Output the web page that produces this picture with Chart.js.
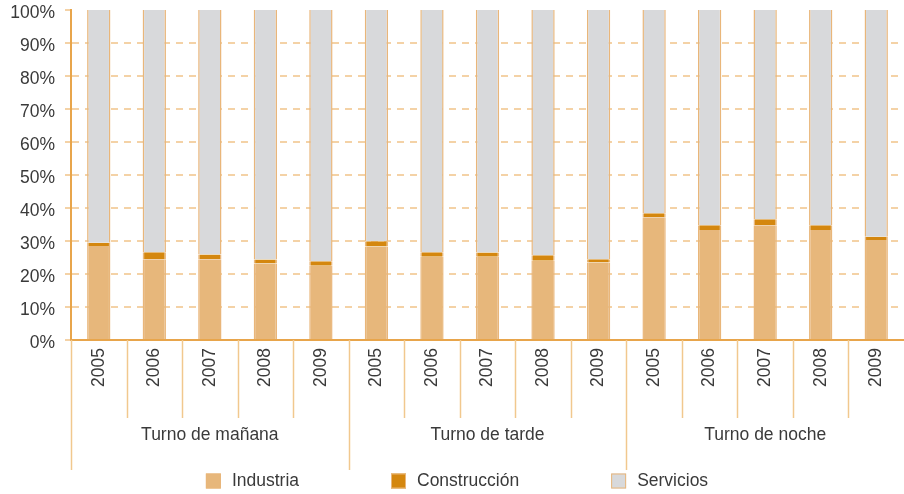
<!DOCTYPE html>
<html>
<head>
<meta charset="utf-8">
<script src="https://cdn.jsdelivr.net/npm/chart.js@4"></script>
<style>
  html, body { margin: 0; padding: 0; background: #fff; }
  #wrap { width: 904px; height: 494px; position: relative; }
</style>
</head>
<body>
<div id="wrap"><canvas id="chart"></canvas></div>
<script>
// datos
const years = ['2005', '2006', '2007', '2008', '2009'];
const turnos = ['Turno de mañana', 'Turno de tarde', 'Turno de noche'];
const yTicks = [0, 10, 20, 30, 40, 50, 60, 70, 80, 90, 100];

const industria = [28.5, 24.5, 24.5, 23.2, 22.5, 28.3, 25.2, 25.2, 24.0, 23.5, 37.2, 33.3, 34.8, 33.3, 30.3];
const construccion = [1.0, 2.1, 1.4, 1.2, 1.4, 1.6, 1.4, 1.3, 1.7, 1.0, 1.2, 1.5, 1.8, 1.5, 1.0];
const servicios = [70.5, 73.4, 74.1, 75.6, 76.1, 70.1, 73.4, 73.5, 74.3, 75.5, 61.6, 65.2, 63.4, 65.2, 68.7];

const labels = [];
turnos.forEach(() => years.forEach(y => labels.push(y)));

const FONT = "'Liberation Sans', Arial, sans-serif";
const FSIZE = 17.5;
const TEXT = '#3a3a3a';
const AXIS = '#e8a54b';
const SEP = '#f1c88e';
const GRID = '#f4d2a6';

const colores = {
  industria: '#e7b77b',
  construccion: '#d4870f',
  servicios: '#d8d9db',
  borde: '#e9b67a'
};

// separadores de categorias, etiquetas de grupo y leyenda
const extrasPlugin = {
  id: 'extras',
  afterDraw(chart) {
    const ctx = chart.ctx;
    const x = chart.scales.x;
    const area = chart.chartArea;
    const n = labels.length;
    const edge = i => {
      if (i === 0) return area.left;
      if (i === n) return area.right;
      return (x.getPixelForValue(i - 1) + x.getPixelForValue(i)) / 2;
    };

    ctx.save();
    ctx.strokeStyle = SEP;
    ctx.lineWidth = 1.5;
    for (let i = 0; i < n; i++) {
      const px = Math.round(edge(i)) + 0.5;
      const groupEdge = i % years.length === 0;
      ctx.beginPath();
      ctx.moveTo(px, area.bottom);
      ctx.lineTo(px, groupEdge ? 470 : 418);
      ctx.stroke();
    }

    ctx.fillStyle = TEXT;
    ctx.font = FSIZE + 'px ' + FONT;
    ctx.textAlign = 'center';
    ctx.textBaseline = 'middle';
    turnos.forEach((t, g) => {
      const a = edge(g * years.length);
      const b = edge((g + 1) * years.length);
      ctx.fillText(t, (a + b) / 2, 435);
    });

    // leyenda
    const items = chart.data.datasets.map(d => ({ text: d.label, fill: d.backgroundColor }));
    const box = 15, gapText = 11, gapItem = 92;
    ctx.textAlign = 'left';
    const widths = items.map(it => box + gapText + ctx.measureText(it.text).width);
    const total = widths.reduce((s, w) => s + w, 0) + gapItem * (items.length - 1);
    let cx = 457 - total / 2;
    const ly = 481;
    items.forEach((it, i) => {
      ctx.fillStyle = it.fill;
      ctx.fillRect(cx, ly - box / 2, box, box);
      ctx.strokeStyle = colores.borde;
      ctx.lineWidth = 1;
      ctx.strokeRect(cx + 0.5, ly - box / 2 + 0.5, box - 1, box - 1);
      ctx.fillStyle = TEXT;
      ctx.fillText(it.text, cx + box + gapText, ly);
      cx += widths[i] + gapItem;
    });
    ctx.restore();
  }
};

new Chart(document.getElementById('chart'), {
  type: 'bar',
  data: {
    labels: labels,
    datasets: [{
      label: 'Industria',
      data: industria,
      backgroundColor: colores.industria
    }, {
      label: 'Construcción',
      data: construccion,
      backgroundColor: colores.construccion
    }, {
      label: 'Servicios',
      data: servicios,
      backgroundColor: colores.servicios
    }]
  },
  options: {
    responsive: true,
    maintainAspectRatio: false,
    animation: false,
    layout: { padding: { top: 10, right: 0, bottom: 0, left: 0 } },
    datasets: {
      bar: {
        borderColor: colores.borde,
        borderWidth: { left: 1.5, right: 1.5, top: 0, bottom: 0 },
        borderSkipped: false,
        categoryPercentage: 1,
        barPercentage: 0.42
      }
    },
    plugins: {
      legend: { display: false },
      tooltip: { enabled: false }
    },
    scales: {
      x: {
        stacked: true,
        afterFit: s => { s.height = 154; s.paddingLeft = 0; s.paddingRight = 0; },
        grid: { drawOnChartArea: false, drawTicks: false },
        border: { color: AXIS, width: 2 },
        ticks: {
          minRotation: 90,
          maxRotation: 90,
          padding: 8,
          color: TEXT,
          font: { family: FONT, size: FSIZE }
        }
      },
      y: {
        stacked: true,
        min: 0,
        max: 100,
        afterFit: s => { s.width = 71; s.paddingTop = 0; s.paddingBottom = 0; },
        afterBuildTicks: s => { s.ticks = yTicks.map(v => ({ value: v })); },
        grid: {
          color: c => (c.tick && (c.tick.value === 100 || c.tick.value === 0)) ? 'rgba(0,0,0,0)' : GRID,
          lineWidth: 2,
          tickLength: 6,
          tickColor: GRID,
          tickWidth: 2
        },
        border: { color: AXIS, width: 2, dash: [7, 6] },
        ticks: {
          padding: 10,
          labelOffset: 3,
          color: TEXT,
          font: { family: FONT, size: FSIZE },
          callback: v => v + '%'
        }
      }
    }
  },
  plugins: [extrasPlugin]
});
</script>
</body>
</html>
